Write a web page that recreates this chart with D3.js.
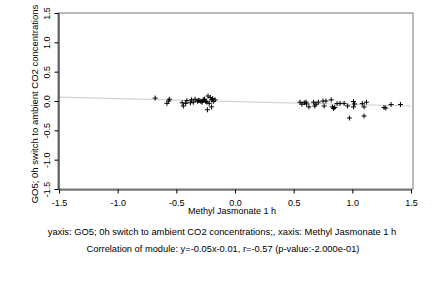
<!DOCTYPE html>
<html>
<head>
<meta charset="utf-8">
<script src="https://cdn.jsdelivr.net/npm/d3@7"></script>
<style>
  body { margin: 0; background: #fff; }
  text { font-family: "Liberation Sans", Arial, sans-serif; fill: #000; }
</style>
</head>
<body>
<div id="chart"></div>
<script>
// points
const xs = [-0.68, -0.56, -0.58, -0.565, -0.45, -0.44, -0.41, -0.42, -0.38, -0.37, -0.355, -0.34, -0.32, -0.30,
  -0.28, -0.27, -0.25, -0.23, -0.21, -0.20, -0.235, -0.20, -0.185, -0.22, -0.17, -0.31, -0.29, -0.26, -0.24, -0.19,
  0.554, 0.57, 0.59, 0.605, 0.61, 0.63, 0.67, 0.68, 0.69, 0.71, 0.75, 0.76, 0.775, 0.82, 0.83, 0.84, 0.85,
  0.87, 0.895, 0.93, 0.96, 0.975, 1.01, 1.01, 1.02, 1.085, 1.10, 1.10, 1.12, 1.27, 1.285, 1.33, 1.41];
const ys = [0.05, 0.03, -0.04, 0.0, -0.03, -0.085, 0.005, -0.04, -0.03, 0.02, -0.02, 0.03, -0.005, 0.005,
  -0.02, 0.02, -0.005, 0.085, 0.06, 0.02, -0.15, -0.10, -0.005, -0.04, 0.02, 0.01, -0.01, 0.03, -0.02, 0.04,
  -0.02, -0.055, -0.03, -0.02, -0.05, -0.1, -0.02, -0.085, -0.055, -0.02, 0.0, -0.085, 0.0, 0.02, -0.1, -0.125, -0.11,
  -0.045, -0.04, -0.04, -0.085, -0.29, -0.01, -0.1, -0.05, -0.045, -0.1, -0.255, -0.02, -0.11, -0.12, -0.06, -0.06];
const ticks = [-1.5, -1.0, -0.5, 0.0, 0.5, 1.0, 1.5];
const slope = -0.05, intercept = -0.01;

const width = 432, height = 288;
const svg = d3.select("#chart").append("svg")
  .attr("width", width).attr("height", height);

const x = d3.scaleLinear().domain([-1.5, 1.5]).range([59, 411]);
const y = d3.scaleLinear().domain([-1.5, 1.5]).range([189, 13]);
const fmt = d => d.toFixed(1);  // plain hyphen, not unicode minus

// frame
svg.append("rect")
  .attr("x", 58).attr("y", 13).attr("width", 355).attr("height", 176)
  .attr("fill", "none").attr("stroke", "#777").attr("stroke-width", 1);

// regression line
svg.append("line")
  .attr("x1", x(-1.5)).attr("y1", y(slope * -1.5 + intercept))
  .attr("x2", x(1.5)).attr("y2", y(slope * 1.5 + intercept))
  .attr("stroke", "#d0d0d0").attr("stroke-width", 1.2);

// x axis
const gx = svg.append("g").attr("transform", "translate(0,189.5)")
  .call(d3.axisBottom(x).tickValues(ticks).tickFormat(fmt).tickSize(4).tickSizeOuter(0));
gx.select(".domain").attr("stroke", "#333");
gx.selectAll("text").attr("font-size", 9).attr("dy", "1.0em");

// y axis
const gy = svg.append("g").attr("transform", "translate(58.5,0)")
  .call(d3.axisLeft(y).tickValues(ticks).tickFormat(fmt).tickSize(4).tickSizeOuter(0));
gy.select(".domain").attr("stroke", "#000");
gy.selectAll("text")
  .attr("font-size", 9)
  .attr("text-anchor", "middle")
  .attr("x", null)
  .attr("transform", "translate(-9,0) rotate(-90)")
  .attr("dy", "0em");

// points
svg.append("g")
  .attr("stroke", "#000").attr("stroke-width", 1)
  .selectAll("path")
  .data(xs.map((v, i) => [v, ys[i]]))
  .join("path")
  .attr("d", "M-2.5,0H2.5M0,-2.5V2.5")
  .attr("transform", d => `translate(${x(d[0])},${y(d[1])})`);

// titles
svg.append("text")
  .attr("x", 232).attr("y", 214)
  .attr("text-anchor", "middle").attr("font-size", 9)
  .text("Methyl Jasmonate 1 h");

svg.append("text")
  .attr("transform", "translate(38,104) rotate(-90)")
  .attr("text-anchor", "middle").attr("font-size", 9.5)
  .text("GO5; 0h switch to ambient CO2 concentrations");

svg.append("text")
  .attr("x", 222).attr("y", 235)
  .attr("text-anchor", "middle").attr("font-size", 9.4)
  .text("yaxis: GO5; 0h switch to ambient CO2 concentrations;, xaxis: Methyl Jasmonate 1 h");

svg.append("text")
  .attr("x", 223).attr("y", 252)
  .attr("text-anchor", "middle").attr("font-size", 9.3)
  .text("Correlation of module: y=-0.05x-0.01, r=-0.57 (p-value:-2.000e-01)");
</script>
</body>
</html>
